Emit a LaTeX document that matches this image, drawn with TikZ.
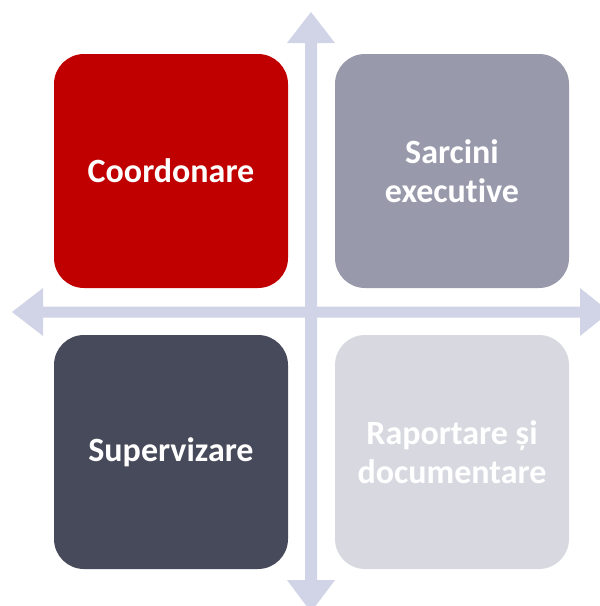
\documentclass[tikz,border=0pt]{standalone}
\usepackage{fontspec}
\setmainfont{Carlito}[RawFeature={-liga;-dlig;-clig}]
\definecolor{cred}{HTML}{C00000}
\definecolor{cgray}{HTML}{9899AB}
\definecolor{cdark}{HTML}{474A5A}
\definecolor{clight}{HTML}{D8D9E0}
\definecolor{carrow}{HTML}{D0D4E6}
\begin{document}
\begin{tikzpicture}[x=1pt,y=-1pt,
  quad/.style={rounded corners=30pt, minimum width=234pt, minimum height=234pt, inner sep=0pt,
    text=white, font=\fontsize{34}{39}\selectfont\bfseries, align=center}]
\useasboundingbox (0,0) rectangle (600,606);
\clip (0,0) rectangle (600,606);
% cross arrows
\fill[carrow] (12,312) -- (43,288) -- (43,306.5) -- (305,306.5) -- (305,43) -- (287,43) -- (311,12)
  -- (335,43) -- (317,43) -- (317,306.5) -- (580,306.5) -- (580,288) -- (610,312)
  -- (580,336) -- (580,317.5) -- (317,317.5) -- (317,580) -- (335,580) -- (311,612)
  -- (287,580) -- (305,580) -- (305,317.5) -- (43,317.5) -- (43,336) -- cycle;
\node[quad, fill=cred] (tl) at (171,171) {Coordonare};
\node[quad, fill=cgray] (tr) at (452,171) {Sarcini\\executive};
\node[quad, fill=cdark] (bl) at (171,452) {Supervizare};
\node[quad, fill=clight] (br) at (452,452) {Raportare și\\documentare};
\end{tikzpicture}
\end{document}
